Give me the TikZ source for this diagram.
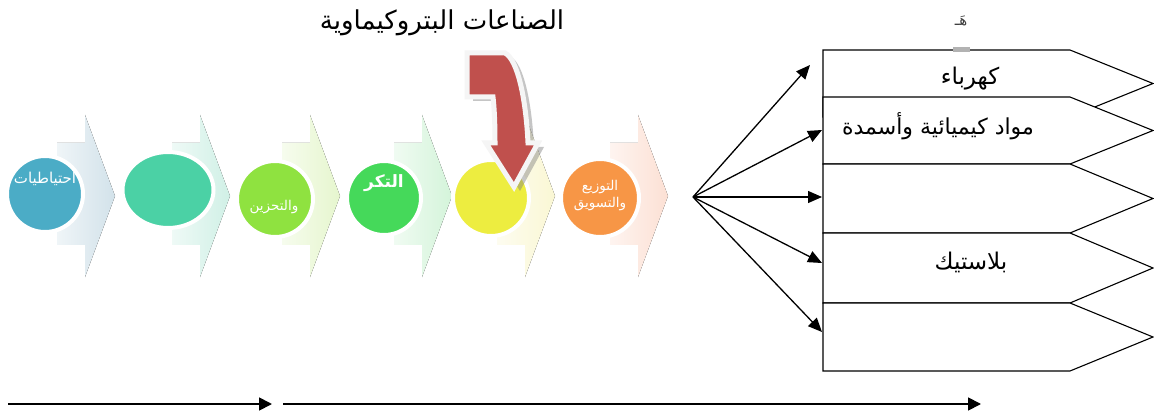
\documentclass[tikz,border=0pt]{standalone}
\usepackage{fontspec}
\usetikzlibrary{shapes.geometric,arrows.meta}
\newfontfamily\arabicfont[Script=Arabic]{DejaVu Sans}
\TeXXeTstate=1
\newcommand\artxt[1]{{\arabicfont\beginR #1\endR}}
\definecolor{cblue}{RGB}{75,172,198}
\definecolor{cteal}{RGB}{75,209,165}
\definecolor{clime}{RGB}{143,226,64}
\definecolor{cgreen}{RGB}{69,217,90}
\definecolor{cyellow}{RGB}{237,237,64}
\definecolor{corange}{RGB}{247,150,70}
\definecolor{cred}{RGB}{192,80,77}
\definecolor{chb}{RGB}{210,226,234}
\definecolor{cht}{RGB}{208,240,230}
\definecolor{chl}{RGB}{230,246,206}
\definecolor{chg}{RGB}{212,244,218}
\definecolor{chy}{RGB}{250,247,212}
\definecolor{cho}{RGB}{252,224,212}
\begin{document}
\begin{tikzpicture}[x=1pt,y=-1pt,
  disc/.style={circle,draw=white,line width=4pt,minimum size=76pt,inner sep=0pt},
  ctext/.style={text=white,font=\fontsize{14}{16}\selectfont,inner sep=0pt},
  outbox/.style={draw=black,fill=white,line width=1.1pt,line join=miter},
  boxtext/.style={font=\fontsize{22}{26}\selectfont,inner sep=0pt},
  fanarrow/.style={line width=1.3pt,-{Triangle[length=14pt,width=12pt]}},
  basearrow/.style={line width=1.8pt,-{Triangle[length=13pt,width=13pt]}}]
\useasboundingbox[fill=white] (0,0) rectangle (1154,414);

% faint chevrons
\foreach \t/\c in {115/chb,230/cht,340/chl,452/chg,555/chy,668/cho}{
  \fill[left color=\c!35,right color=\c]
    (\t-58,143) -- (\t-30,143) -- (\t-30,115) -- (\t,196) -- (\t-30,277)
    -- (\t-30,245) -- (\t-58,245) -- cycle;
}

% circles
\node[disc,fill=cblue] (c1) at (45,194) {};
\node[ellipse,draw=white,line width=4pt,fill=cteal,minimum width=91pt,minimum height=76pt] (c2) at (168,190) {};
\node[disc,fill=clime] (c3) at (275,199) {};
\node[disc,fill=cgreen,minimum size=74pt] (c4) at (384,198) {};
\node[disc,fill=cyellow] (c5) at (491,198) {};
\node[disc,fill=corange,minimum size=78pt] (c6) at (600,198) {};

\node[ctext,font=\fontsize{15}{17}\selectfont] (t1) at (45,179) {\artxt{احتياطيات}};
\node[ctext,font=\fontsize{13.5}{16}\selectfont] (t3) at (274,207) {\artxt{والتحزين}};
\begin{scope}
  \clip (363,160) rectangle (425,240);
  \node[ctext,font=\fontsize{17}{19}\selectfont\bfseries,anchor=east] (t4) at (404,183) {\artxt{التكرير}};
\end{scope}
\node[ctext,align=center,font=\fontsize{13.5}{17}\selectfont] (t6) at (600,196) {\artxt{التوزيع}\\\artxt{والتسويق}};

% red bent arrow: shadow then arrow
\begin{scope}[shift={(6,4)}]
\fill[gray,opacity=0.45] (467,53) -- (505,53) .. controls (518,60) and (526,100) .. (528,143)
  -- (538,143) -- (514,187) -- (486,143) -- (495,143) .. controls (495,120) and (494,105) .. (493,97)
  -- (467,97) -- cycle;
\end{scope}
\path[fill=cred,draw=gray!8,line width=5pt,line join=miter] (467,53) -- (505,53) .. controls (518,60) and (526,100) .. (528,143)
  -- (538,143) -- (514,187) -- (486,143) -- (495,143) .. controls (495,120) and (494,105) .. (493,97)
  -- (467,97) -- cycle;

% title
\node[font=\fontsize{26}{30}\selectfont,inner sep=0pt] (title) at (442,23) {\artxt{الصناعات البتروكيماوية}};

% output boxes
\foreach \a/\b in {50/117,97/164,164/233,233/303,303/371}{
  \draw[outbox] (823,\a) -- (1070,\a) -- (1153,{(\a+\b)/2}) -- (1070,\b) -- (823,\b) -- cycle;
}
\node[boxtext,font=\fontsize{23}{26}\selectfont] (k1) at (970,79) {\artxt{كهرباء}};
\node[boxtext] (k2) at (938,126) {\artxt{مواد كيميائية وأسمدة}};
\node[boxtext,font=\fontsize{23}{26}\selectfont] (k4) at (971,262) {\artxt{بلاستيك}};

% small mark above first box
\node[font=\fontsize{15}{17}\selectfont,text=black!75,inner sep=0pt] (mark) at (961,21) {\artxt{هَـ}};
\fill[gray!60] (953,47) rectangle (970,52);

% fan of arrows
\coordinate (fan) at (693,197);
\coordinate (e1) at (810,65);
\coordinate (e2) at (822,130);
\coordinate (e3) at (822,197);
\coordinate (e4) at (822,263);
\coordinate (e5) at (822,332);
\foreach \e in {e1,e2,e3,e4,e5}{\draw[fanarrow] (fan) -- (\e);}

% bottom arrows
\coordinate (b1) at (8,404);
\coordinate (b2) at (272,404);
\coordinate (b3) at (283,404);
\coordinate (b4) at (981,404);
\draw[basearrow] (b1) -- (b2);
\draw[basearrow] (b3) -- (b4);
\end{tikzpicture}
\end{document}
